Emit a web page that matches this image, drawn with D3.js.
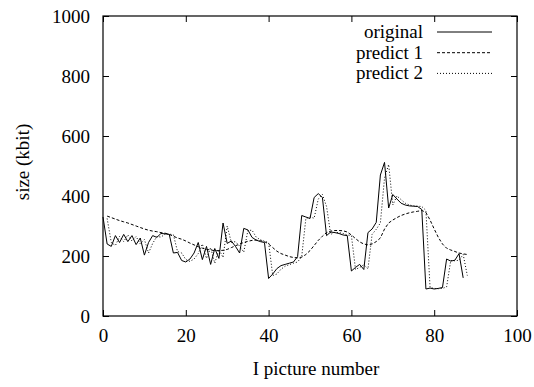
<!DOCTYPE html>
<html>
<head>
<meta charset="utf-8">
<script src="https://cdn.jsdelivr.net/npm/d3@7"></script>
<style>
  body { margin: 0; background: #fff; }
  svg text { font-family: "Liberation Serif", "DejaVu Serif", serif !important; fill: #000; }
</style>
</head>
<body>
<svg id="chart" width="534" height="387"></svg>
<script>
// original frame sizes, picture 0..87
var original = [330, 240, 232, 268, 245, 272, 248, 268, 238, 260,
  203, 245, 268, 262, 275, 274, 272, 210, 212, 185,
  180, 190, 210, 245, 188, 232, 172, 225, 192, 310,
  242, 250, 232, 210, 292, 287, 262, 253, 248, 245,
  125, 140, 158, 168, 172, 176, 180, 198, 335, 330,
  325, 395, 408, 395, 268, 280, 278, 275, 270, 268,
  150, 162, 172, 155, 278, 290, 312, 470, 512, 360,
  405, 390, 376, 370, 367, 366, 365, 355, 90, 93,
  90, 92, 95, 190, 183, 186, 208, 127];

// predictions, picture 1..88
var predict1 = [333, 328, 323, 318, 314, 310, 305, 300, 295, 290,
  286, 283, 281, 278, 276, 272, 266, 260, 256, 250,
  243, 237, 231, 226, 222, 220, 218, 218, 219, 222,
  228, 234, 240, 245, 249, 252, 253, 251, 248, 240,
  228, 216, 208, 203, 198, 195, 194, 196, 205, 218,
  235, 252, 266, 278, 283, 285, 285, 284, 280, 270,
  258, 247, 240, 237, 240, 248, 260, 290, 310, 320,
  328, 335, 340, 344, 347, 349, 352, 345, 320, 290,
  262, 240, 226, 220, 215, 210, 207, 205];

var predict2 = [325, 245, 235, 265, 248, 270, 250, 265, 240, 255,
  210, 242, 265, 263, 273, 273, 271, 215, 210, 188,
  182, 190, 208, 240, 192, 228, 176, 222, 195, 300,
  245, 248, 233, 213, 285, 286, 263, 254, 249, 245,
  135, 140, 156, 166, 171, 176, 180, 198, 325, 330,
  326, 390, 405, 365, 272, 279, 278, 275, 270, 268,
  155, 162, 171, 157, 272, 289, 310, 460, 505, 370,
  400, 388, 376, 370, 367, 366, 365, 352, 95, 92,
  91, 92, 97, 185, 184, 186, 205, 135];

var xTicks = [0, 20, 40, 60, 80, 100];
var yTicks = [0, 200, 400, 600, 800, 1000];

var seriesNames = ["original", "predict 1", "predict 2"];
var dashes = [null, "3,2", "1,2"];

var svg = d3.select("#chart");
var plotL = 103, plotR = 517, plotT = 16, plotB = 316;
var fontSize = "19px";

var x = d3.scaleLinear().domain([0, 100]).range([plotL, plotR]);
var y = d3.scaleLinear().domain([0, 1000]).range([plotB, plotT]);

var series = [
  original.map((v, i) => [i, v]),
  predict1.map((v, i) => [i + 1, v]),
  predict2.map((v, i) => [i + 1, v])
];

// axes, ticks pointing inward on all four sides
svg.append("g")
  .attr("transform", "translate(0," + plotB + ")")
  .call(d3.axisBottom(x).tickValues(xTicks).tickSizeInner(-6).tickSizeOuter(0).tickPadding(13).tickFormat(d3.format("d")))
  .call(g => g.select(".domain").remove());
svg.append("g")
  .attr("transform", "translate(0," + plotT + ")")
  .call(d3.axisTop(x).tickValues(xTicks).tickSizeInner(-6).tickSizeOuter(0).tickFormat(""))
  .call(g => g.select(".domain").remove());
svg.append("g")
  .attr("transform", "translate(" + plotL + ",0)")
  .call(d3.axisLeft(y).tickValues(yTicks).tickSizeInner(-6).tickSizeOuter(0).tickPadding(13).tickFormat(d3.format("d")))
  .call(g => g.select(".domain").remove());
svg.append("g")
  .attr("transform", "translate(" + plotR + ",0)")
  .call(d3.axisRight(y).tickValues(yTicks).tickSizeInner(-6).tickSizeOuter(0).tickFormat(""))
  .call(g => g.select(".domain").remove());

svg.selectAll("g").attr("font-family", null).attr("font-size", null);
svg.selectAll(".tick text").style("font-size", fontSize);
svg.selectAll(".tick line").attr("stroke", "#000");

svg.append("rect")
  .attr("x", plotL).attr("y", plotT)
  .attr("width", plotR - plotL).attr("height", plotB - plotT)
  .attr("fill", "none").attr("stroke", "#000").attr("stroke-width", 1.2);

var line = d3.line().x(d => x(d[0])).y(d => y(d[1]));

svg.selectAll(".series")
  .data(series)
  .enter()
  .append("path")
  .attr("class", "series")
  .attr("d", line)
  .attr("fill", "none")
  .attr("stroke", "#000")
  .attr("stroke-width", 1)
  .attr("stroke-dasharray", (d, i) => dashes[i]);

// legend
var legend = svg.append("g");
seriesNames.forEach(function (name, i) {
  var ly = 32 + i * 20.7;
  legend.append("text")
    .attr("x", 423).attr("y", ly)
    .attr("dy", "0.32em")
    .attr("text-anchor", "end")
    .style("font-size", fontSize)
    .text(name);
  legend.append("line")
    .attr("x1", 437).attr("x2", 492)
    .attr("y1", ly).attr("y2", ly)
    .attr("stroke", "#000")
    .attr("stroke-width", 1)
    .attr("stroke-dasharray", dashes[i]);
});

svg.append("text")
  .attr("x", 316).attr("y", 375)
  .attr("text-anchor", "middle")
  .style("font-size", fontSize)
  .text("I picture number");

svg.append("text")
  .attr("transform", "translate(29,162) rotate(-90)")
  .attr("text-anchor", "middle")
  .style("font-size", fontSize)
  .text("size (kbit)");
</script>
</body>
</html>
